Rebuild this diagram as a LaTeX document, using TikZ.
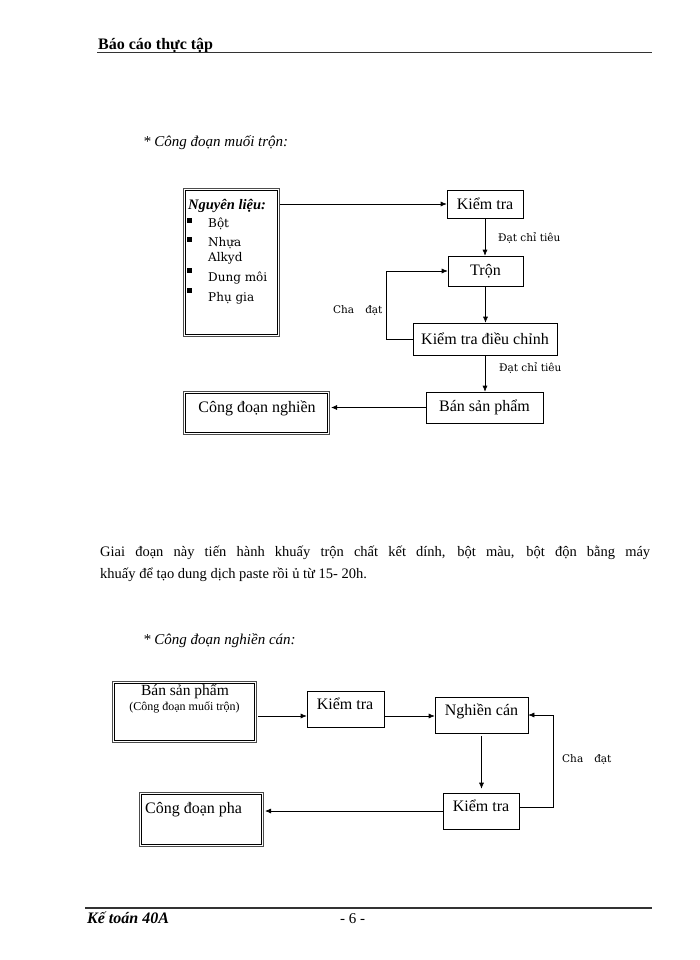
\documentclass[tikz,border=0pt]{standalone}
\usepackage{fontspec}
\setmainfont{Liberation Serif}
\newfontfamily\dvs{DejaVu Serif}
\usetikzlibrary{arrows.meta,calc}
\begin{document}
\begin{tikzpicture}[x=1pt,y=-1pt,
  box/.style={draw, line width=0.6pt, inner sep=0pt, font=\fontsize{16}{18}\selectfont},
  dbox/.style={draw=black!70, line width=1.6pt, inner sep=0pt},
  inrect/.style={draw, line width=0.6pt},
  bt/.style={inner sep=0pt, font=\fontsize{16}{18}\selectfont},
  arr/.style={-{Latex[length=6pt,width=5pt]}, line width=0.6pt},
  lbl/.style={font=\dvs\fontsize{10.5}{13}\selectfont, inner sep=0pt, anchor=base west},
  item/.style={font=\dvs\fontsize{12}{14}\selectfont, inner sep=0pt, anchor=base west},
  txt/.style={inner sep=0pt, anchor=base west},
  rule/.style={line width=1.2pt, draw=black!80}
]
\useasboundingbox (0,0) rectangle (700,960);
% header
\node[txt, font=\bfseries\fontsize{16}{18}\selectfont] (hdr) at (98,50) {Báo cáo thực tập};
\coordinate (h1) at (97,52.5);
\coordinate (h2) at (652,52.5);
\draw[rule] (h1) -- (h2);
% footer
\coordinate (f1) at (85,908);
\coordinate (f2) at (652,908);
\draw[rule] (f1) -- (f2);
\node[txt, font=\bfseries\itshape\fontsize{16}{18}\selectfont] (ft) at (87,923) {Kế toán 40A};
\node[txt, font=\fontsize{15}{17}\selectfont] (pg) at (340,923) {- 6 -};
% section titles
\node[txt, font=\itshape\fontsize{15}{17}\selectfont] (s1) at (143,147) {* Công đoạn muối trộn:};
\node[txt, font=\itshape\fontsize{15}{17}\selectfont] (s2) at (143,644) {* Công đoạn nghiền cán:};
% paragraph
\node[txt, font=\fontsize{14.5}{22}\selectfont] (p1) at (100,556) {\makebox[550pt][s]{Giai đoạn này tiến hành khuấy trộn chất kết dính, bột màu, bột độn bằng máy}};
\node[txt, font=\fontsize{14.5}{22}\selectfont] (p2) at (100,578) {khuấy để tạo dung dịch paste rồi ủ từ 15- 20h.};

% ===== diagram 1 =====
\node[dbox, minimum width=96pt, minimum height=148pt] (nl) at (231.5,262.5) {};
\draw[inrect] ($(nl.south west)+(3,-3)$) rectangle ($(nl.north east)+(-3,3)$);
\node[txt, font=\bfseries\itshape\fontsize{14.5}{17}\selectfont] (nlT) at (188,209) {Nguyên liệu:};
\fill (186.5,218) rectangle (191.5,223);
\fill (186.5,237) rectangle (191.5,242);
\fill (186.5,268) rectangle (191.5,273);
\fill (186.5,288) rectangle (191.5,293);
\node[item] (i1) at (208,227) {Bột};
\node[item] (i2) at (208,246) {Nhựa};
\node[item] (i3) at (208,261) {Alkyd};
\node[item] (i4) at (208,281) {Dung môi};
\node[item] (i5) at (208,301) {Phụ gia};

\node[box, minimum width=76pt, minimum height=28pt] (k1) at (485,204) {Kiểm tra};
\node[box, minimum width=75pt, minimum height=30pt] (tron) at (485.5,271) {Trộn};
\node[box, minimum width=144pt, minimum height=32pt] (ktdc) at (485,339) {Kiểm tra điều chỉnh};
\node[box, minimum width=117pt, minimum height=31pt] (bsp) at (484.5,407.5) {Bán sản phẩm};
\node[dbox, minimum width=146pt, minimum height=43pt] (cdn) at (256.5,413) {};
\draw[inrect] ($(cdn.south west)+(3,-3)$) rectangle ($(cdn.north east)+(-3,3)$);
\node[bt] (cdnT) at (257,408) {Công đoạn nghiền};

\draw[arr] (nl.east |- k1.west) -- (k1.west);
\draw[arr] (k1.south) -- (k1.south |- tron.north);
\draw[arr] (tron.south) -- (tron.south |- ktdc.north);
\draw[arr] (ktdc.west) -- ++(-26,0) |- (tron.west);
\draw[arr] (ktdc.south) -- (ktdc.south |- bsp.north);
\draw[arr, shorten >=0.8pt] (bsp.west) -- (bsp.west -| cdn.east);

\node[lbl] (dat1) at (498,241) {Đạt chỉ tiêu};
\node[lbl] (dat2) at (499,371) {Đạt chỉ tiêu};
\node[lbl] (cha1) at (333,313) {Cha\hspace{11pt}đạt};

% ===== diagram 2 =====
\coordinate (r2) at (0,716);
\coordinate (r3) at (0,807);
\node[dbox, minimum width=144pt, minimum height=61pt] (bsp2) at (184.5,712) {};
\draw[inrect] ($(bsp2.south west)+(3,-3)$) rectangle ($(bsp2.north east)+(-3,3)$);
\node[inner sep=0pt, font=\fontsize{15.5}{17}\selectfont] (bsp2T) at (185,692) {Bán sản phẩm};
\node[inner sep=0pt, font=\fontsize{12}{14}\selectfont] (bsp2S) at (184.5,707.5) {(Công đoạn muối trộn)};
\node[box, minimum width=77pt, minimum height=36pt] (kt2) at (345.5,709) {};
\node[bt] (kt2T) at (345,704) {Kiểm tra};
\node[box, minimum width=93pt, minimum height=36pt] (nc) at (481.5,715) {};
\node[bt] (ncT) at (481.5,711) {Nghiền cán};
\node[box, minimum width=76pt, minimum height=36pt] (kt3) at (481,811) {};
\node[bt] (kt3T) at (481,806) {Kiểm tra};
\node[dbox, minimum width=124pt, minimum height=54pt] (cdp) at (201.5,819.5) {};
\draw[inrect] ($(cdp.south west)+(3,-3)$) rectangle ($(cdp.north east)+(-3,3)$);
\node[bt, anchor=west] (cdpT) at (145,810) {Công đoạn pha};

\draw[arr, shorten <=0.8pt] (bsp2.east |- r2) -- (kt2.west |- r2);
\draw[arr] (kt2.east |- r2) -- (nc.west |- r2);
\draw[arr, shorten <=3pt, shorten >=4pt] (nc.south) -- (nc.south |- kt3.north);
\draw[arr] (kt3.east |- r3) -- ++(34,0) |- (nc.east);
\draw[arr, shorten >=0.8pt] (kt3.west) -- (kt3.west -| cdp.east);
\node[lbl] (cha2) at (562,762) {Cha\hspace{11pt}đạt};
\end{tikzpicture}
\end{document}
